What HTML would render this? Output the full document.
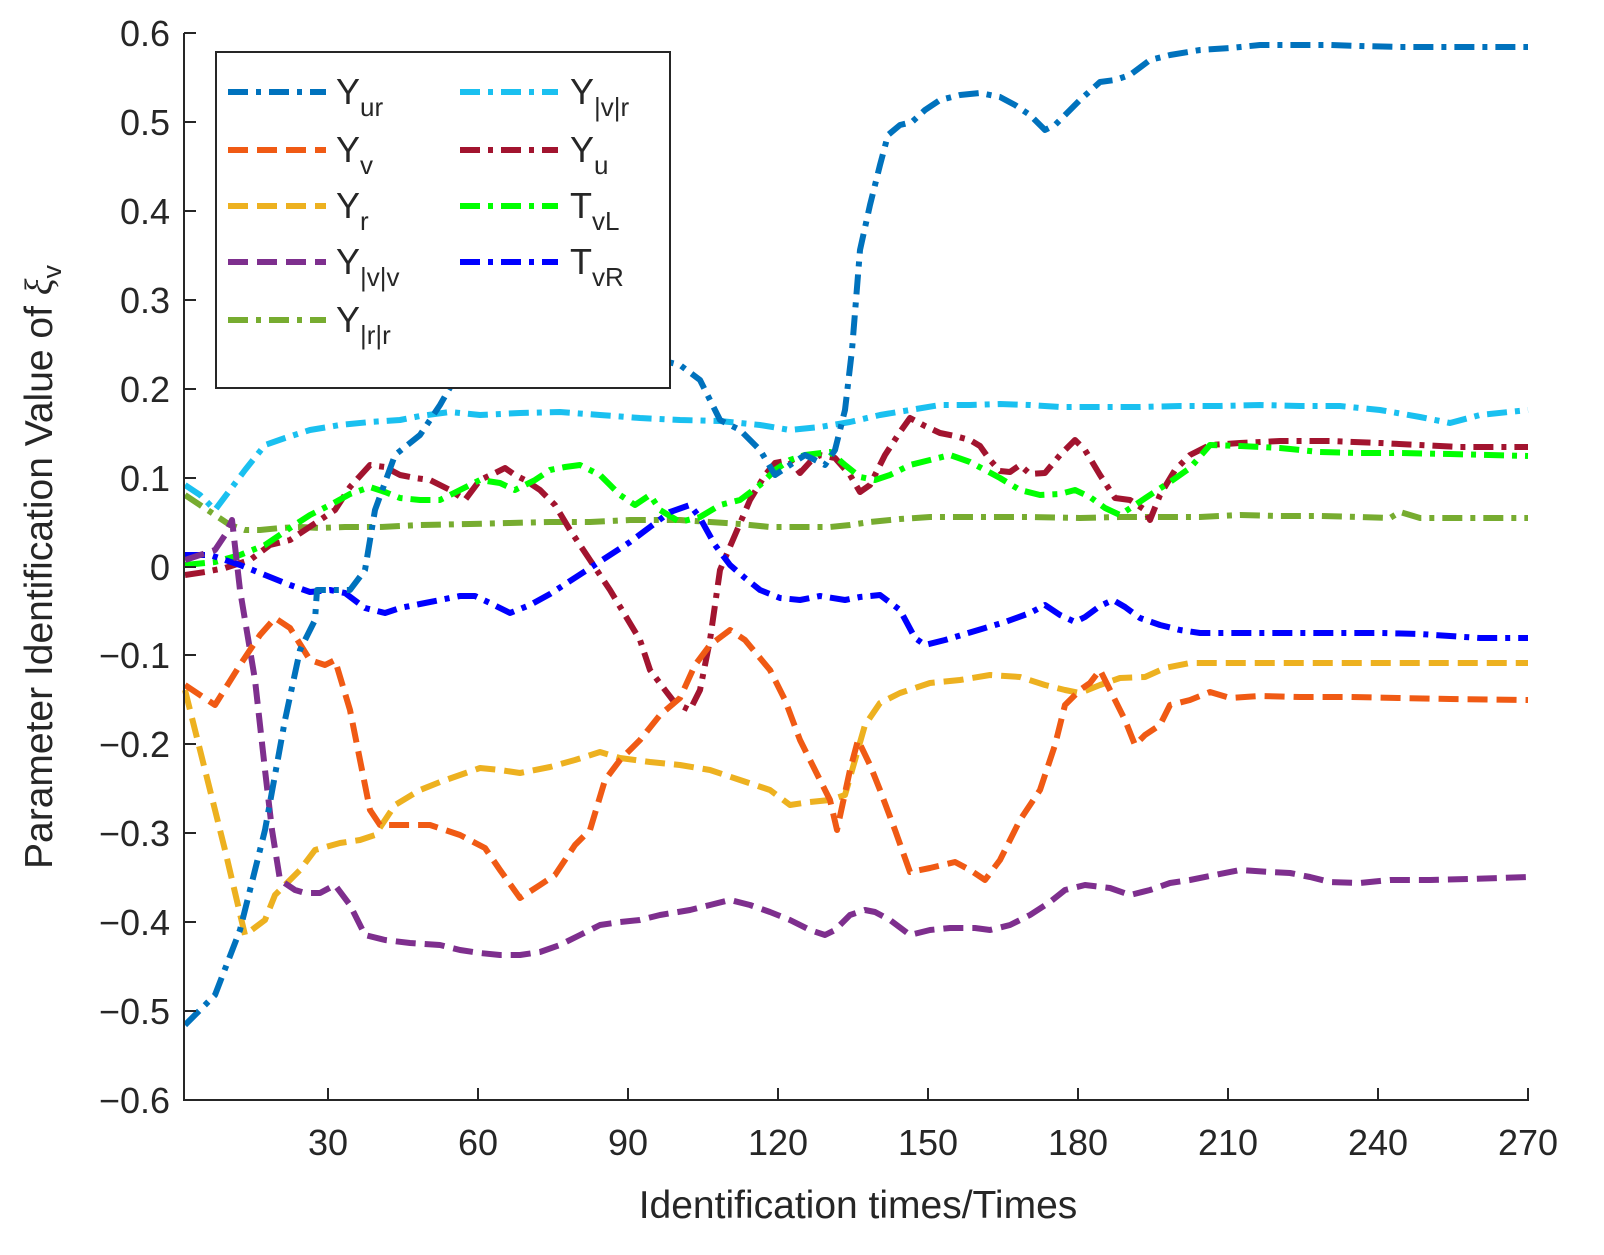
<!DOCTYPE html>
<html><head><meta charset="utf-8"><style>
html,body{margin:0;padding:0;background:#fff;}
svg{display:block;font-family:"Liberation Sans",Arial,sans-serif;}
</style></head><body>
<svg width="1604" height="1255" viewBox="0 0 1604 1255" xmlns="http://www.w3.org/2000/svg">
<rect width="1604" height="1255" fill="#fff"/>
<g fill="none" stroke-width="6" stroke-linejoin="round">
<polyline stroke="#77AC30" stroke-dasharray="20,8,5,8" points="185,495 200,505 215,515 230,525 245,530 260,530 280,528 300,527 320,528 345,527 380,527 420,525 470,524 510,523 550,522 590,522 630,520 680,520 710,522 740,524 770,527 800,527 830,527 850,525 870,522 900,519 930,517 970,517 1030,517 1080,518 1120,517 1160,517 1200,517 1240,515 1280,516 1320,516 1360,517 1390,518 1400,512 1420,518 1450,518 1528,518"/>
<polyline stroke="#1AC0F0" stroke-dasharray="20,8,5,8" points="185,485 200,495 215,510 230,490 245,470 265,445 285,438 310,430 340,425 370,422 400,420 420,416 450,412 480,415 520,413 560,412 600,415 640,418 680,420 720,421 760,425 790,430 820,427 850,422 880,415 910,410 940,405 970,405 1000,404 1030,405 1060,407 1100,407 1140,407 1180,406 1220,406 1260,405 1300,406 1340,406 1380,410 1420,417 1450,423 1480,415 1528,410"/>
<polyline stroke="#A2142F" stroke-dasharray="20,8,5,8" points="185,575 205,572 225,568 250,560 270,545 290,540 305,530 320,520 335,510 350,487 370,465 385,467 400,475 415,478 430,480 450,490 465,500 480,480 495,473 505,468 515,475 525,480 540,490 555,505 570,530 590,560 610,590 625,615 640,640 650,670 665,690 675,703 690,710 700,690 710,640 720,570 735,535 750,500 765,475 775,463 790,460 800,473 810,462 820,455 835,458 850,475 860,492 870,485 885,455 900,432 910,418 925,426 940,433 955,436 970,440 980,446 990,460 1000,471 1010,472 1020,465 1030,474 1045,473 1060,455 1075,440 1085,450 1100,475 1115,498 1130,500 1145,510 1150,520 1160,495 1175,470 1190,455 1210,445 1240,443 1280,441 1330,441 1380,443 1420,445 1460,447 1528,447"/>
<polyline stroke="#00FF00" stroke-dasharray="20,8,5,8" points="185,565 215,562 240,555 265,545 290,528 310,515 330,505 350,494 370,487 385,492 400,498 420,500 440,500 460,490 480,480 500,483 515,490 535,480 550,470 565,467 580,465 600,475 620,495 635,505 650,495 660,510 680,522 700,517 720,505 740,500 760,485 775,470 790,460 805,455 830,452 845,465 860,477 875,480 890,475 910,465 930,460 950,455 970,462 1000,478 1020,490 1040,495 1060,494 1075,490 1090,497 1105,508 1120,515 1135,505 1150,495 1170,482 1190,468 1210,445 1240,446 1280,448 1320,452 1360,453 1400,453 1450,454 1528,456"/>
<polyline stroke="#0000FF" stroke-dasharray="20,8,5,8" points="185,555 210,555 240,565 265,575 290,585 310,592 330,590 345,593 365,608 385,613 400,608 420,604 440,600 460,596 475,596 490,603 510,613 530,605 550,594 570,581 590,568 610,555 630,542 650,527 670,512 690,505 700,518 715,545 730,565 745,578 760,590 780,598 800,600 820,596 845,600 860,597 880,595 900,610 915,638 925,645 945,640 965,634 985,628 1005,622 1030,613 1045,605 1060,615 1075,622 1085,617 1100,606 1113,600 1125,607 1140,618 1160,625 1180,630 1200,633 1220,633 1260,633 1320,633 1380,633 1420,634 1450,636 1480,638 1528,638"/>
<polyline stroke="#EDB120" stroke-dasharray="20,9" points="185,690 195,730 210,790 225,850 245,935 265,920 275,895 290,880 300,870 315,850 340,843 360,840 375,835 395,805 420,790 440,782 460,775 480,768 500,770 520,773 550,767 575,760 600,752 620,758 650,762 680,765 710,770 740,780 770,790 790,805 810,802 830,800 845,795 855,760 865,725 880,703 900,693 930,683 960,680 990,675 1020,677 1045,685 1065,690 1080,693 1100,685 1120,678 1145,677 1165,668 1190,663 1210,663 1250,663 1300,663 1400,663 1528,663"/>
<polyline stroke="#7E2F8E" stroke-dasharray="20,9" points="185,560 200,555 215,550 225,535 232,520 240,590 255,680 265,770 272,830 280,880 295,890 305,893 320,893 335,885 350,905 365,935 385,940 410,943 440,945 460,950 480,953 500,955 520,955 540,952 560,945 580,935 600,925 620,922 640,920 660,915 690,910 710,905 730,900 750,905 770,912 790,920 810,930 825,935 835,930 850,915 865,910 875,912 890,920 910,935 930,930 950,928 975,928 990,930 1010,925 1030,915 1050,902 1065,890 1085,885 1110,888 1130,895 1150,890 1170,883 1190,880 1215,875 1240,870 1270,872 1290,873 1310,877 1330,882 1360,883 1390,880 1430,880 1470,879 1528,877"/>
<polyline stroke="#F05A14" stroke-dasharray="20,9" points="185,685 215,705 240,665 260,635 275,618 290,628 310,660 325,665 335,660 350,710 360,760 370,810 380,825 400,825 430,825 460,835 485,848 500,870 520,898 540,885 555,875 575,845 590,830 605,780 620,760 640,740 660,715 680,698 695,665 710,645 730,630 745,640 770,670 785,700 800,740 815,770 830,800 837,830 850,770 858,740 870,765 880,790 895,830 910,872 930,868 955,862 970,870 985,880 1000,860 1020,820 1040,790 1055,745 1065,705 1070,700 1080,690 1090,683 1100,670 1110,690 1125,720 1135,745 1145,735 1160,725 1170,705 1190,700 1210,692 1230,698 1260,696 1300,697 1350,697 1400,698 1450,699 1528,700"/>
<polyline stroke="#0072BD" stroke-dasharray="20,8,5,8" points="185,1025 215,995 240,930 265,830 285,720 300,650 315,620 317,590 330,590 350,590 365,570 375,510 395,455 420,435 440,405 460,370 480,335 495,330 500,345 520,355 540,350 560,340 580,345 600,340 620,345 640,350 660,360 680,365 700,380 720,420 740,430 760,450 775,475 790,465 805,455 825,465 835,450 845,410 852,350 860,250 870,205 880,165 888,135 900,125 912,122 925,110 940,100 960,95 980,93 1000,97 1015,105 1030,115 1045,130 1055,125 1080,100 1100,82 1115,80 1130,75 1150,60 1170,55 1200,50 1230,48 1260,45 1290,45 1330,45 1360,46 1400,47 1450,47 1528,47"/>
</g>
<g stroke="#262626" stroke-width="2" fill="none">
<line x1="184" y1="33" x2="184" y2="1101"/>
<line x1="183" y1="1100" x2="1529" y2="1100"/>
<path d="M184 33h12M184 122h12M184 211h12M184 300h12M184 389h12M184 478h12M184 567h12M184 655h12M184 744h12M184 833h12M184 922h12M184 1011h12"/>
<path d="M328 1100v-12M478 1100v-12M628 1100v-12M778 1100v-12M928 1100v-12M1078 1100v-12M1228 1100v-12M1378 1100v-12M1528 1100v-12"/>
</g>
<g font-size="36" fill="#262626" text-anchor="end">
<text x="170" y="46">0.6</text><text x="170" y="135">0.5</text><text x="170" y="224">0.4</text><text x="170" y="313">0.3</text><text x="170" y="402">0.2</text><text x="170" y="491">0.1</text><text x="170" y="580">0</text><text x="170" y="668">−0.1</text><text x="170" y="757">−0.2</text><text x="170" y="846">−0.3</text><text x="170" y="935">−0.4</text><text x="170" y="1024">−0.5</text><text x="170" y="1113">−0.6</text>
</g>
<g font-size="36" fill="#262626" text-anchor="middle">
<text x="328" y="1155">30</text><text x="478" y="1155">60</text><text x="628" y="1155">90</text><text x="778" y="1155">120</text><text x="928" y="1155">150</text><text x="1078" y="1155">180</text><text x="1228" y="1155">210</text><text x="1378" y="1155">240</text><text x="1528" y="1155">270</text>
<text x="858" y="1218" font-size="39">Identification times/Times</text>
<text transform="translate(52,567) rotate(-90)" font-size="39">Parameter Identification Value of <tspan font-family="Liberation Serif" font-style="italic">ξ</tspan><tspan font-size="27" dy="9">v</tspan></text>
</g>
<rect x="216" y="52" width="454" height="336" fill="#fff" stroke="#262626" stroke-width="2"/>
<g fill="none" stroke-width="6">
<line x1="228" y1="92" x2="326" y2="92" stroke="#0072BD" stroke-dasharray="20,8,5,8"/>
<line x1="228" y1="150" x2="326" y2="150" stroke="#F05A14" stroke-dasharray="20,9"/>
<line x1="228" y1="206" x2="326" y2="206" stroke="#EDB120" stroke-dasharray="20,9"/>
<line x1="228" y1="262" x2="326" y2="262" stroke="#7E2F8E" stroke-dasharray="20,9"/>
<line x1="228" y1="320" x2="326" y2="320" stroke="#77AC30" stroke-dasharray="20,8,5,8"/>
<line x1="460" y1="92" x2="558" y2="92" stroke="#1AC0F0" stroke-dasharray="20,8,5,8"/>
<line x1="460" y1="150" x2="558" y2="150" stroke="#A2142F" stroke-dasharray="20,8,5,8"/>
<line x1="460" y1="206" x2="558" y2="206" stroke="#00FF00" stroke-dasharray="20,8,5,8"/>
<line x1="460" y1="262" x2="558" y2="262" stroke="#0000FF" stroke-dasharray="20,8,5,8"/>
</g>
<g font-size="36" fill="#262626">
<text x="336" y="104">Y<tspan font-size="26" dy="12">ur</tspan></text>
<text x="336" y="162">Y<tspan font-size="26" dy="12">v</tspan></text>
<text x="336" y="218">Y<tspan font-size="26" dy="12">r</tspan></text>
<text x="336" y="274">Y<tspan font-size="26" dy="12">|v|v</tspan></text>
<text x="336" y="332">Y<tspan font-size="26" dy="12">|r|r</tspan></text>
<text x="570" y="104">Y<tspan font-size="26" dy="12">|v|r</tspan></text>
<text x="570" y="162">Y<tspan font-size="26" dy="12">u</tspan></text>
<text x="570" y="218">T<tspan font-size="26" dy="12">vL</tspan></text>
<text x="570" y="274">T<tspan font-size="26" dy="12">vR</tspan></text>
</g>
</svg>
</body></html>
